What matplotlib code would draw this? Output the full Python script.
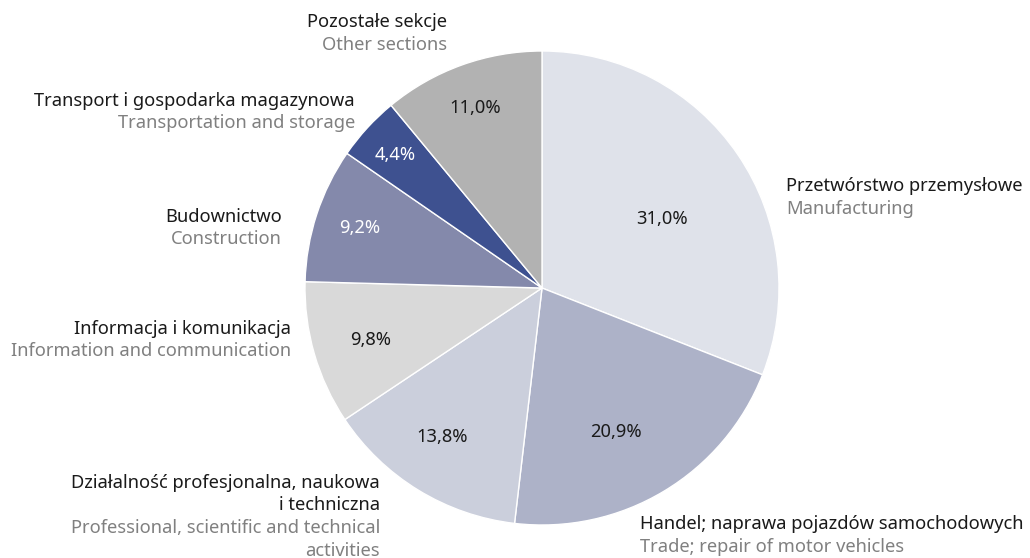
import matplotlib
matplotlib.use('Agg')
import matplotlib.pyplot as plt

plt.rcParams['font.family'] = ['Noto Sans', 'DejaVu Sans']

# shares in %, clockwise from 12 o'clock
shares = [31.0, 20.9, 13.8, 9.8, 9.2, 4.4, 11.0]
pct_labels = ['31,0%', '20,9%', '13,8%', '9,8%', '9,2%', '4,4%', '11,0%']
names_pl = ['Przetwórstwo przemysłowe',
            'Handel; naprawa pojazdów samochodowych',
            'Działalność profesjonalna, naukowa\ni techniczna',
            'Informacja i komunikacja',
            'Budownictwo',
            'Transport i gospodarka magazynowa',
            'Pozostałe sekcje']
names_en = ['Manufacturing',
            'Trade; repair of motor vehicles',
            'Professional, scientific and technical\nactivities',
            'Information and communication',
            'Construction',
            'Transportation and storage',
            'Other sections']
colors = ['#dfe2ea', '#adb2c8', '#cbcfdc', '#d9d9d9', '#8489ab', '#3e5190', '#b2b2b2']
pct_colors = ['#1a1a1a', '#1a1a1a', '#1a1a1a', '#1a1a1a', 'white', 'white', '#1a1a1a']

W, H = 1030, 558
FS = 13.2
fig = plt.figure(figsize=(W / 100, H / 100), dpi=100)
ax = fig.add_axes([0, 0, 1, 1])

# pie centre / radius in pixel coords (y from top)
cx, cy, r = 542, 288, 237
ax.pie(shares, colors=colors, startangle=90, counterclock=False,
       center=(cx, H - cy), radius=r, frame=True,
       wedgeprops=dict(edgecolor='white', linewidth=1))
ax.set_xlim(0, W)
ax.set_ylim(0, H)
ax.set_aspect('equal')
ax.axis('off')

# percentage label positions (pixels from top-left)
pct_pos = [(662, 219), (616, 432), (442, 437), (371, 340), (360, 228), (395, 155), (475, 108)]
for (x, y), t, c in zip(pct_pos, pct_labels, pct_colors):
    ax.text(x, H - y, t, ha='center', va='center', fontsize=FS, color=c)

# category labels: (x, y of first line, alignment)
lab_pos = [(786, 186, 'left'), (640, 524, 'left'), (380, 483, 'right'),
           (291, 329, 'right'), (282, 217, 'right'), (355, 101, 'right'),
           (447, 22, 'right')]
line_h = 22.5
for (x, y, al), pl, en in zip(lab_pos, names_pl, names_en):
    lines = [(s, '#1a1a1a') for s in pl.split('\n')] + \
            [(s, '#808080') for s in en.split('\n')]
    for i, (s, c) in enumerate(lines):
        ax.text(x, H - (y + i * line_h), s, ha=al, va='center',
                fontsize=FS, color=c)

fig.savefig('out.png', dpi=100, facecolor='white')
